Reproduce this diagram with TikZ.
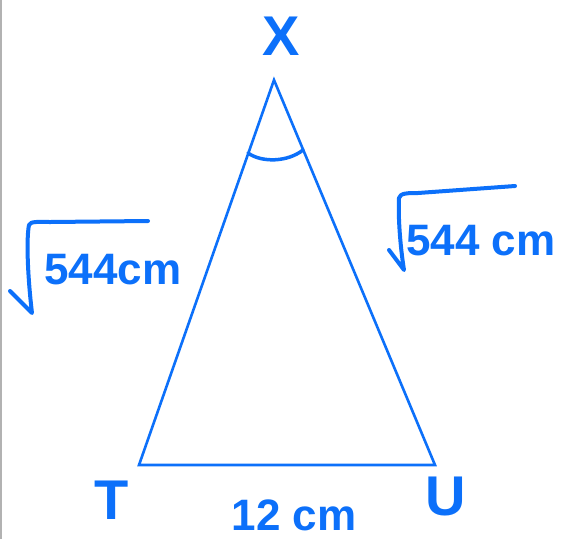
\documentclass[tikz,border=0pt]{standalone}
\usepackage{fontspec}
\setmainfont{Liberation Sans}
\definecolor{pen}{RGB}{12,112,250}
\tikzset{
  edge/.style={draw=pen, line width=2.6pt, line join=miter},
  ink/.style={draw=pen, line width=4pt, line cap=round, line join=round},
  lbl/.style={text=pen, inner sep=0pt, font=\fontsize{56}{56}\selectfont\bfseries},
  meas/.style={text=pen, inner sep=0pt, font=\fontsize{44}{44}\selectfont\bfseries},
}
\begin{document}
\begin{tikzpicture}[x=1pt,y=-1pt]
\useasboundingbox (0,0) rectangle (564,539);
\fill[white] (0,0) rectangle (564,539);
\draw[gray!60, line width=2pt] (1,0) -- (1,539);
% vertices
\coordinate (X) at (274,80);
\coordinate (T) at (139,465);
\coordinate (U) at (435,465);
\draw[edge] (X) -- (T) -- (U) -- cycle;
% angle mark
\coordinate (a1) at (248,153);
\coordinate (a2) at (303,150);
\draw[ink, line width=3.5pt] (a1) .. controls (262,163) and (288,162) .. (a2);
% labels
\node[lbl] (xl) at (281,36) {X};
\node[lbl] (tl) at (112,500) {T};
\node[lbl] (ul) at (446,496) {U};
\node[meas] (base) at (294,515) {12 cm};
% left measure
\node[meas, anchor=west] (left) at (44,270) {544cm};
\draw[ink] (10,291) -- (32,313) .. controls (28,280) and (26,240) .. (29,225) .. controls (30,221) and (40,222) .. (50,222) -- (148,221);
% right measure
\node[meas, anchor=west] (right) at (406,241) {544 cm};
\draw[ink] (389,250) -- (404,270) .. controls (400,245) and (398,215) .. (399,198) .. controls (400,193) and (408,193) .. (418,193) -- (515,186);
\end{tikzpicture}
\end{document}
